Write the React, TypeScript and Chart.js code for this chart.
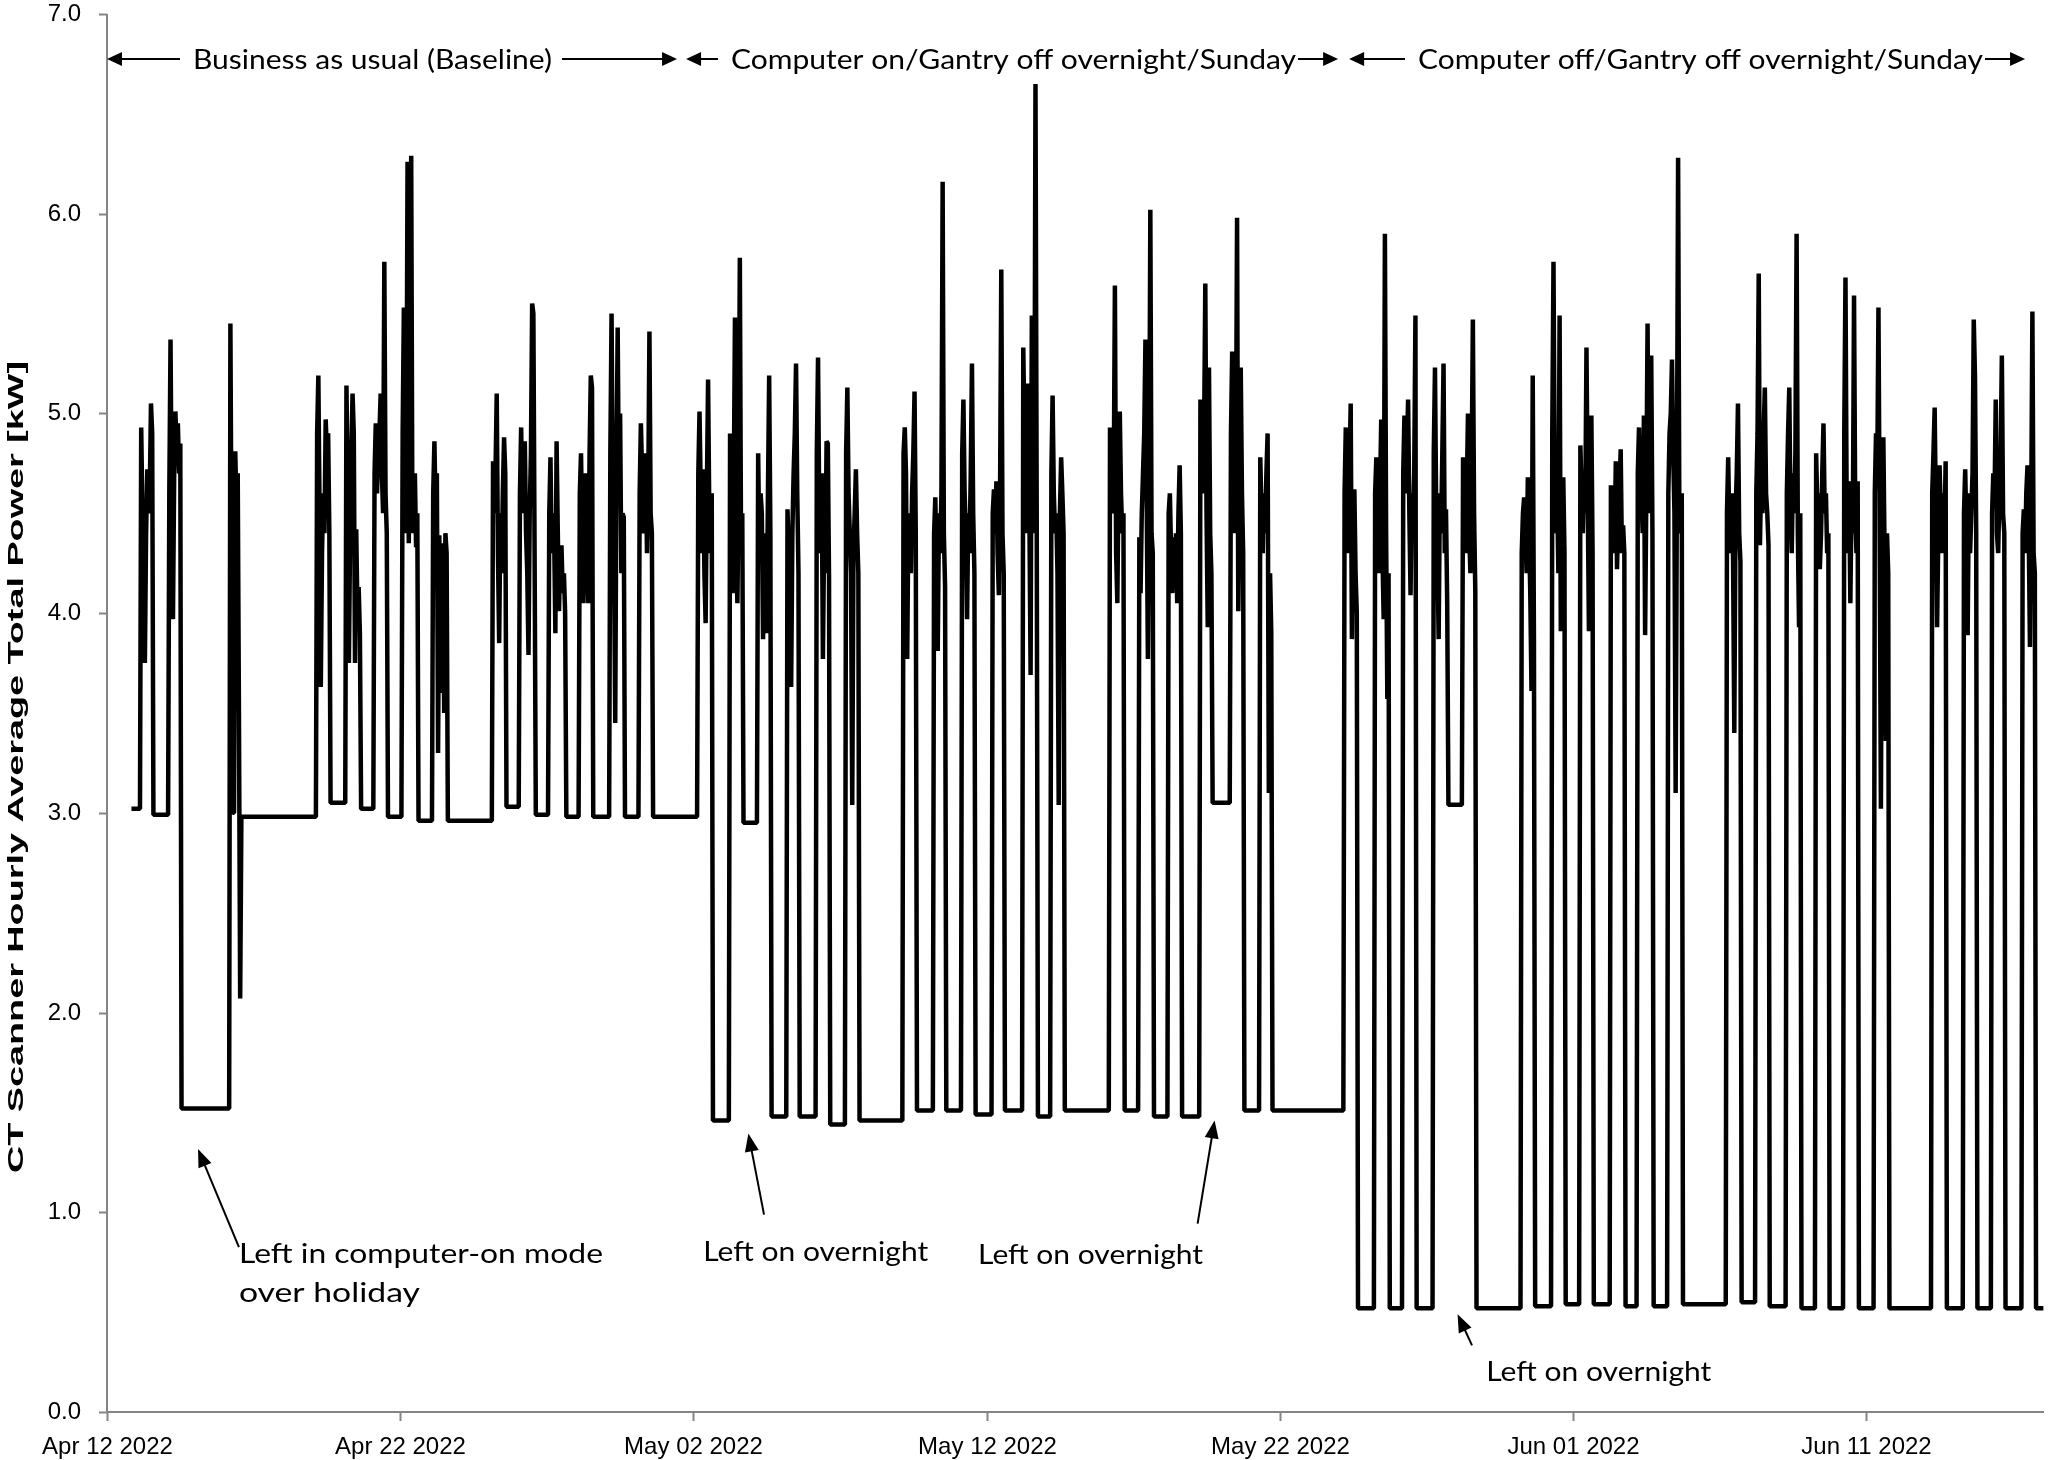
import React, { useEffect, useRef } from "react";
import { Chart, registerables } from "chart.js";

Chart.register(...registerables);

// Time axis is in hours counted from 2022-04-12 00:00.
const firstHour = 20;
const lastHour = 1585;
const axisMaxHour = 1585.5;

// Standby level held between active periods (one before each block, one after the last).
const idleLevels = [
  3.02, 2.99, 1.52, 2.98, 3.05, 3.02, 2.98, 2.96, 2.96, 3.03, 2.99, 2.98, 2.98, 2.98, 2.98,
  1.46, 2.95, 1.48, 1.48, 1.44, 1.46, 1.51, 1.51, 1.49, 1.51, 1.48, 1.51, 1.51, 1.48, 1.48, 3.05, 1.51, 1.51,
  0.52, 0.52, 0.52, 3.04, 0.52, 0.53, 0.54, 0.54, 0.53, 0.53, 0.54, 0.55, 0.53, 0.52, 0.52, 0.52, 0.52,
  0.52, 0.52, 0.52, 0.52,
];

// Hour at which each active (scanning) period begins.
const blockStarts = [
  28, 51, 101, 172, 196, 219, 242, 267, 316, 338,
  362, 387, 412, 436, 484, 510, 533, 557, 581, 605,
  652, 677, 700, 725, 750, 773, 821, 845, 869, 895,
  920, 944, 1013, 1038, 1061, 1086, 1110, 1158, 1183, 1206,
  1231, 1253, 1278, 1326, 1350, 1375, 1399, 1422, 1447, 1494,
  1520, 1543, 1568,
];

// Hourly average power [kW] during each active period.
const blockValues: number[][] = [
  [4.93, 4.5, 4.2, 3.75, 4.4, 4.72, 4.5, 4.6, 5.05, 4.9],
  [4.6, 5.37, 4.5, 3.97, 4.7, 5.01, 4.8, 4.95, 4.7, 4.85],
  [5.45, 4.2, 3.0, 3.0, 4.81, 4.5, 4.7, 3.5, 2.07],
  [4.9, 5.19, 4.5, 3.63, 4.3, 4.6, 4.4, 4.97, 4.8, 4.9, 4.4],
  [5.14, 4.6, 3.75, 4.4, 4.8, 5.1, 4.9, 3.75, 4.42, 4.0, 4.13, 3.9],
  [4.7, 4.95, 4.6, 4.8, 4.9, 5.1, 4.7, 4.5, 5.76, 4.6, 4.4],
  [4.9, 5.53, 4.4, 4.6, 6.26, 4.35, 5.2, 6.29, 4.4, 4.6, 4.7, 4.33, 4.5],
  [4.6, 4.86, 4.5, 4.7, 3.3, 4.39, 3.6, 4.3, 4.35, 3.5, 4.4, 4.3],
  [4.76, 4.5, 4.7, 5.1, 4.3, 3.85, 4.5, 4.2, 4.6, 4.88, 4.7],
  [4.6, 4.93, 4.5, 4.7, 4.86, 4.4, 4.2, 3.79, 4.5, 4.8, 5.55, 5.5, 4.3],
  [4.5, 4.78, 4.3, 4.5, 4.4, 3.9, 4.86, 4.4, 4.01, 4.3, 4.34, 4.1, 4.2, 4.0],
  [4.6, 4.8, 4.4, 4.05, 4.6, 4.7, 4.3, 4.05, 4.8, 5.19, 5.13],
  [4.8, 5.5, 4.6, 4.3, 3.45, 4.7, 5.43, 4.6, 5.0, 4.2, 4.5, 4.48],
  [4.6, 4.95, 4.7, 4.4, 4.5, 4.8, 4.3, 4.6, 5.41, 4.5, 4.4],
  [4.7, 5.01, 4.6, 4.3, 4.72, 4.2, 3.95, 4.6, 5.17, 4.5, 4.3, 4.6],
  [4.9, 4.5, 4.1, 4.6, 5.48, 4.3, 4.05, 4.6, 5.78, 4.3, 4.5],
  [4.8, 4.3, 4.6, 4.5, 3.87, 4.4, 4.2, 3.9, 4.6, 5.19, 4.4],
  [4.52, 4.3, 4.0, 3.63, 4.4, 4.7, 4.9, 5.25, 4.6, 4.2],
  [4.8, 5.28, 4.5, 4.3, 4.7, 3.77, 4.4, 4.2, 4.86, 4.85, 4.18],
  [4.8, 5.13, 4.6, 4.4, 4.2, 3.04, 4.3, 4.5, 4.72, 4.4, 4.2],
  [4.8, 4.93, 4.7, 3.77, 4.5, 4.4, 4.2, 4.6, 4.8, 5.11, 4.4],
  [4.4, 4.58, 4.2, 3.81, 4.5, 4.3, 4.6, 6.16, 4.4, 4.13],
  [4.8, 5.07, 4.6, 4.4, 3.97, 4.5, 4.3, 4.7, 5.25, 4.5, 4.2],
  [4.5, 4.62, 4.4, 4.66, 4.3, 4.09, 4.6, 5.72, 4.4, 4.2],
  [5.33, 4.9, 4.6, 4.4, 5.15, 4.5, 3.69, 5.49, 4.8, 4.4, 6.65, 4.5],
  [4.7, 5.09, 4.6, 4.4, 4.5, 4.2, 3.04, 4.5, 4.78, 4.6, 4.4],
  [4.93, 4.7, 4.5, 4.6, 5.64, 4.3, 4.05, 4.7, 5.01, 4.6, 4.4, 4.5],
  [4.38, 4.1, 4.5, 4.7, 4.9, 5.37, 4.6, 3.77, 4.5, 6.02, 4.4, 4.3],
  [4.5, 4.6, 4.3, 4.1, 4.38, 4.2, 4.4, 4.05, 4.5, 4.74, 4.4],
  [5.07, 4.8, 4.6, 4.9, 5.65, 4.5, 3.93, 5.23, 4.4, 4.2],
  [4.9, 5.31, 4.6, 4.4, 4.7, 5.98, 4.01, 4.5, 5.23, 4.6, 4.3],
  [4.78, 4.5, 4.3, 4.6, 4.4, 4.7, 4.9, 3.1, 4.2, 3.9],
  [4.6, 4.93, 4.5, 4.3, 4.7, 5.05, 3.87, 4.4, 4.62, 4.2, 4.0],
  [4.6, 4.78, 4.4, 4.2, 4.6, 4.97, 4.3, 3.97, 5.9, 4.4, 3.57, 4.2],
  [4.7, 4.99, 4.6, 4.8, 5.07, 4.5, 4.09, 4.6, 4.4, 4.7, 5.49],
  [4.8, 5.23, 4.5, 4.3, 3.87, 4.6, 4.4, 4.8, 5.25, 4.3, 4.52, 4.05],
  [4.78, 4.5, 4.3, 4.6, 5.0, 4.4, 4.2, 4.7, 5.47, 4.5, 4.11],
  [4.3, 4.5, 4.58, 4.4, 4.2, 4.68, 4.4, 4.1, 3.61, 5.19, 3.87],
  [4.9, 5.76, 4.7, 4.4, 4.6, 4.2, 5.49, 3.91, 4.5, 4.68, 4.3],
  [4.84, 4.6, 4.4, 4.7, 4.5, 5.33, 4.6, 3.91, 4.5, 4.99, 4.3],
  [4.64, 4.4, 4.5, 4.3, 4.76, 4.22, 4.5, 4.6, 4.82, 4.3, 4.44, 4.3],
  [4.7, 4.93, 4.5, 4.6, 4.4, 4.99, 3.89, 4.6, 5.45, 4.5, 4.7, 5.29, 4.4],
  [4.6, 4.9, 5.0, 5.27, 4.8, 4.5, 3.1, 4.6, 6.28, 4.5, 4.4, 4.6],
  [4.5, 4.78, 4.4, 4.3, 4.6, 4.26, 3.4, 4.5, 4.7, 5.05, 4.4, 4.26],
  [4.6, 4.9, 5.7, 4.34, 4.7, 4.5, 4.9, 5.13, 4.6, 4.5, 4.34],
  [4.6, 4.9, 5.13, 4.5, 4.3, 4.7, 4.5, 4.8, 5.9, 4.4, 3.93, 4.5],
  [4.8, 4.5, 4.6, 4.22, 4.4, 4.7, 4.95, 4.5, 4.6, 4.3, 4.4],
  [4.9, 5.68, 4.5, 4.3, 4.66, 4.05, 4.6, 4.4, 5.59, 4.5, 4.3, 4.66],
  [4.6, 4.9, 4.7, 5.53, 4.4, 3.02, 4.5, 4.88, 4.3, 3.36, 4.4, 4.2],
  [4.6, 4.8, 5.03, 4.5, 3.93, 4.4, 4.74, 4.5, 4.3, 4.6, 4.4, 4.76],
  [4.5, 4.72, 4.4, 3.89, 4.6, 4.3, 4.5, 4.7, 5.47, 5.19, 4.4],
  [4.5, 4.7, 4.56, 5.07, 4.4, 4.3, 4.6, 4.8, 5.29, 4.5, 4.4],
  [4.4, 4.52, 4.3, 4.6, 4.74, 4.4, 3.83, 4.5, 5.51, 4.3, 4.2],
];

const xTickHours = [0, 240, 480, 720, 960, 1200, 1440];
const xTickLabels = ["Apr 12 2022", "Apr 22 2022", "May 02 2022", "May 12 2022", "May 22 2022", "Jun 01 2022", "Jun 11 2022"];
const yTickValues = [0, 1, 2, 3, 4, 5, 6, 7];
const yTitle = "CT Scanner Hourly Average Total Power [kW]";

// Study phases shown along the top of the plot.
const phaseLabels = [
  "Business as usual (Baseline)",
  "Computer on/Gantry off overnight/Sunday",
  "Computer off/Gantry off overnight/Sunday",
];
const phaseFrom = [0, 474, 1016.7];
const phaseTo = [466.6, 1007.7, 1570];

// Callout notes.
const noteTexts = [
  ["Left in computer-on mode", "over holiday"],
  ["Left on overnight"],
  ["Left on overnight"],
  ["Left on overnight"],
];

// Layout of the decorations (hour / kW anchors, pixel sizes).
const phaseLayout = {
  level: 6.775,
  textStart: [70.4, 510.8, 1073.1],
  textWidth: [359, 565, 565],
  gapRight: [10, 2, 2],
};
const noteLayout = {
  at: [[108, 0.79], [488, 0.8], [713, 0.786], [1129, 0.197]],
  widths: [[364, 181], [225], [225], [225]],
  lineStep: 0.195,
  from: [[108, 0.826], [537.8, 0.988], [892.7, 0.943], [1117.3, 0.334]],
  to: [[74.5, 1.317], [525, 1.394], [906.6, 1.46], [1105.5, 0.49]],
};

const noteFont = "27px Lato, 'Open Sans', sans-serif";
const tickFont = "24px 'Liberation Sans', Arial, sans-serif";
const titleFont = "bold 22px 'Liberation Sans', Arial, sans-serif";

function buildSeries() {
  const pts: { x: number; y: number }[] = [];
  let t = firstHour;
  blockStarts.forEach((start, i) => {
    pts.push({ x: t, y: idleLevels[i] });
    pts.push({ x: start - 1, y: idleLevels[i] });
    blockValues[i].forEach((v, k) => pts.push({ x: start + k, y: v }));
    t = start + blockValues[i].length;
  });
  const tail = idleLevels[idleLevels.length - 1];
  pts.push({ x: t, y: tail });
  pts.push({ x: lastHour, y: tail });
  return pts;
}

function fitText(ctx: CanvasRenderingContext2D, text: string, x: number, y: number, width: number, font: string) {
  ctx.save();
  ctx.font = font;
  const w = ctx.measureText(text).width;
  ctx.translate(x, y);
  ctx.scale(width / w, 1);
  ctx.textAlign = "left";
  ctx.textBaseline = "middle";
  ctx.fillText(text, 0, 0);
  ctx.restore();
}

function arrowHead(ctx: CanvasRenderingContext2D, x1: number, y1: number, x2: number, y2: number, len: number, half: number) {
  const a = Math.atan2(y2 - y1, x2 - x1);
  const c = Math.cos(a);
  const s = Math.sin(a);
  ctx.beginPath();
  ctx.moveTo(x2, y2);
  ctx.lineTo(x2 - len * c + half * s, y2 - len * s - half * c);
  ctx.lineTo(x2 - len * c - half * s, y2 - len * s + half * c);
  ctx.closePath();
  ctx.fill();
}

const decorations = {
  id: "decorations",
  beforeDatasetsDraw(chart: any) {
    const { ctx, chartArea: a, scales } = chart;
    const xs = scales.x;
    const ys = scales.y;
    ctx.save();
    ctx.strokeStyle = "#858585";
    ctx.lineWidth = 2;
    ctx.beginPath();
    ctx.moveTo(a.left, a.top);
    ctx.lineTo(a.left, a.bottom);
    ctx.lineTo(a.right, a.bottom);
    ctx.stroke();

    ctx.fillStyle = "#000";
    ctx.font = tickFont;
    ctx.textBaseline = "middle";
    ctx.textAlign = "right";
    yTickValues.forEach((v) => {
      const py = Math.round(ys.getPixelForValue(v)) + 0.5;
      ctx.beginPath();
      ctx.moveTo(a.left - 8, py);
      ctx.lineTo(a.left, py);
      ctx.stroke();
      ctx.fillText(v.toFixed(1), a.left - 26, py);
    });
    ctx.textAlign = "center";
    xTickHours.forEach((h, i) => {
      const px = Math.round(xs.getPixelForValue(h)) + 0.5;
      ctx.beginPath();
      ctx.moveTo(px, a.bottom);
      ctx.lineTo(px, a.bottom + 9);
      ctx.stroke();
      ctx.fillText(xTickLabels[i], px, a.bottom + 35);
    });

    // vertical axis title, drawn rotated and stretched along its length
    ctx.save();
    ctx.font = titleFont;
    const tw = ctx.measureText(yTitle).width;
    ctx.translate(17, 767);
    ctx.rotate(-Math.PI / 2);
    ctx.scale(812 / tw, 1);
    ctx.textAlign = "center";
    ctx.textBaseline = "middle";
    ctx.fillText(yTitle, 0, 0);
    ctx.restore();
    ctx.restore();
  },
  afterDatasetsDraw(chart: any) {
    const { ctx, scales } = chart;
    const xs = scales.x;
    const ys = scales.y;
    ctx.save();
    ctx.fillStyle = "#000";
    ctx.strokeStyle = "#000";

    // phase arrows
    const py = ys.getPixelForValue(phaseLayout.level);
    phaseLabels.forEach((label, i) => {
      const x0 = xs.getPixelForValue(phaseFrom[i]);
      const x1 = xs.getPixelForValue(phaseTo[i]);
      const t0 = xs.getPixelForValue(phaseLayout.textStart[i]);
      const t1 = t0 + phaseLayout.textWidth[i];
      ctx.lineWidth = 2;
      ctx.beginPath();
      ctx.moveTo(x0 + 6, py);
      ctx.lineTo(t0 - 13, py);
      ctx.moveTo(t1 + phaseLayout.gapRight[i], py);
      ctx.lineTo(x1 - 6, py);
      ctx.stroke();
      arrowHead(ctx, x0 + 20, py, x0, py, 15, 7);
      arrowHead(ctx, x1 - 20, py, x1, py, 15, 7);
      fitText(ctx, label, t0, py + 1, phaseLayout.textWidth[i], noteFont);
    });

    // callouts
    noteTexts.forEach((lines, i) => {
      const [hx, hv] = noteLayout.at[i];
      lines.forEach((line, k) => {
        fitText(ctx, line, xs.getPixelForValue(hx), ys.getPixelForValue(hv - k * noteLayout.lineStep), noteLayout.widths[i][k], noteFont);
      });
      const fx = xs.getPixelForValue(noteLayout.from[i][0]);
      const fy = ys.getPixelForValue(noteLayout.from[i][1]);
      const tx = xs.getPixelForValue(noteLayout.to[i][0]);
      const ty = ys.getPixelForValue(noteLayout.to[i][1]);
      const len = Math.hypot(tx - fx, ty - fy);
      const ex = tx - ((tx - fx) / len) * 12;
      const ey = ty - ((ty - fy) / len) * 12;
      ctx.lineWidth = 2;
      ctx.beginPath();
      ctx.moveTo(fx, fy);
      ctx.lineTo(ex, ey);
      ctx.stroke();
      arrowHead(ctx, fx, fy, tx, ty, 18, 7);
    });
    ctx.restore();
  },
};

export default function App() {
  const ref = useRef<HTMLCanvasElement>(null);
  useEffect(() => {
    if (!ref.current) return;
    const chart = new Chart(ref.current, {
      type: "line",
      data: {
        datasets: [
          {
            data: buildSeries(),
            borderColor: "#000",
            borderWidth: 4.5,
            borderJoinStyle: "bevel",
            pointRadius: 0,
            tension: 0,
            fill: false,
          },
        ],
      },
      options: {
        animation: false,
        responsive: false,
        devicePixelRatio: 1,
        events: [],
        layout: { autoPadding: false, padding: { left: 107, right: 4, top: 14, bottom: 48 } },
        scales: {
          x: { type: "linear", min: 0, max: axisMaxHour, display: false },
          y: { type: "linear", min: 0, max: 7, display: false },
        },
        plugins: { legend: { display: false }, tooltip: { enabled: false } },
      },
      plugins: [decorations],
    } as any);
    return () => chart.destroy();
  }, []);
  return (
    <div style={{ position: "absolute", left: 0, top: 0, width: 2048, height: 1460, background: "#fff" }}>
      <canvas ref={ref} width={2048} height={1460} style={{ display: "block" }} />
    </div>
  );
}
